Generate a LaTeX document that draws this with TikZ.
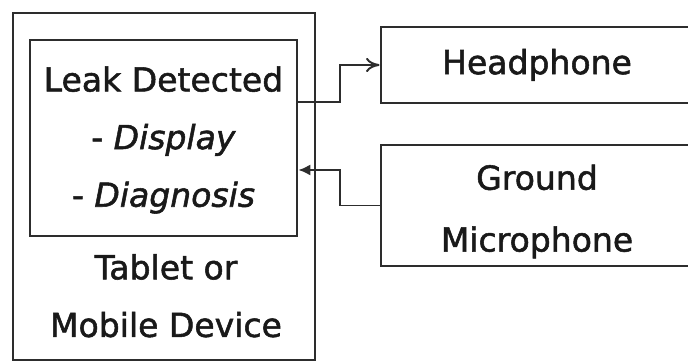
\documentclass[tikz,border=0pt]{standalone}
\usepackage{fontspec}
\setmainfont[FakeBold=1.6,AutoFakeBold=1.6]{DejaVu Sans}
\usepackage{xcolor}
\usetikzlibrary{arrows.meta, calc, positioning}
\definecolor{boxgray}{RGB}{45,45,45}
\definecolor{textdark}{RGB}{25,25,25}

\begin{document}
\begin{tikzpicture}[scale=1.0, >=Stealth,
    box/.style={draw=boxgray, line width=2pt, inner sep=0pt, text=textdark},
    boxtext/.style={text=textdark, align=center, font=\fontsize{23.5}{41}\bfseries\selectfont},
    link/.style={draw=boxgray, line width=1.4pt}]
    % Page frame
    \useasboundingbox (0,0) rectangle (17.2,9.075);
    \clip (0,0) rectangle (17.2,9.075);

    % Device (outer box)
    \node[box, minimum width=7.55cm, minimum height=8.675cm] (device) at (4.1,4.4125) {};

    % Leak screen (inner box)
    \node[box, minimum width=6.675cm, minimum height=4.9cm] (leak) at (4.0875,5.625) {};
    \node[boxtext] (leaktext) at ([yshift=-0.05cm]leak.center)
        {Leak Detected\\- \textit{Display}\\- \textit{Diagnosis}};

    % Device name
    \node[boxtext] (devname) at (4.15,1.68) {Tablet or\\Mobile Device};

    % Headphone
    \node[box, boxtext, minimum width=7.8cm, minimum height=1.9cm] (phone) at (13.425,7.45) {Headphone};

    % Ground microphone
    \node[box, minimum width=7.8cm, minimum height=3.025cm] (mic) at (13.425,3.9375) {};
    \node[boxtext, font=\fontsize{23.5}{44}\bfseries\selectfont] (mictext) at ([yshift=-0.15cm]mic.center) {Ground\\Microphone};

    % Connectors
    \draw[link, -{To[length=3.4mm, width=3.6mm]}] ([yshift=0.9cm]leak.east) -- ++(1.05,0) |- (phone.west);
    \draw[link, -{Latex[length=3mm, width=2.8mm]}] (mic.west) -- ++(-1.0,0) |- ([yshift=-0.8cm]leak.east);
\end{tikzpicture}
\end{document}
